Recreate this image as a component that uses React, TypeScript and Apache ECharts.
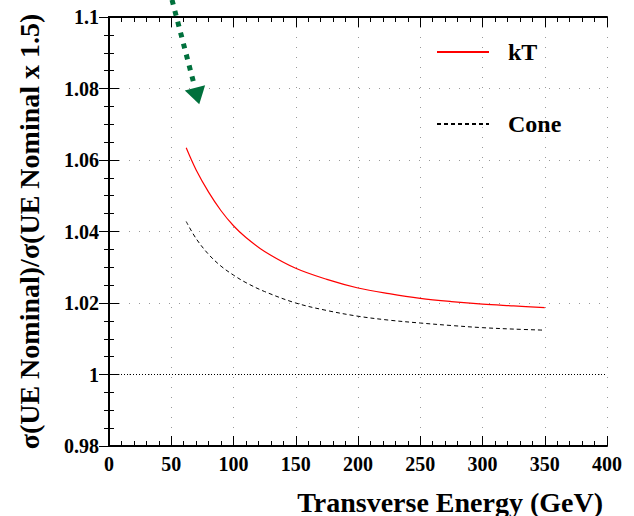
import React, { useEffect, useRef } from "react";
import * as echarts from "echarts";

const energies = [62, 70, 80, 90, 100, 110, 125, 150, 175, 200, 225, 250, 275, 300, 325, 350];
const ktValues = [1.0634, 1.0572, 1.0510, 1.0458, 1.0416, 1.0383, 1.0344, 1.0297, 1.0266, 1.0242, 1.0226, 1.0213, 1.0204, 1.0197, 1.0192, 1.0187];
const coneValues = [1.0428, 1.0380, 1.0336, 1.0303, 1.0278, 1.0257, 1.0232, 1.0200, 1.0179, 1.0163, 1.0152, 1.0144, 1.0137, 1.0131, 1.0127, 1.0124];
const seriesNames = ["kT", "Cone"];
const referenceLevel = 1;
const arrowTail = [50.6, 1.1048];
const arrowTip = [72.5, 1.0756];

const FONT = "'Liberation Serif', 'DejaVu Serif', serif";
const GREEN = "#00703c";

export default function App() {
  const ref = useRef<HTMLDivElement>(null);
  useEffect(() => {
    if (!ref.current) return;
    const chart = echarts.init(ref.current, undefined, { renderer: "svg" });
    const labelStyle = { fontFamily: FONT, fontWeight: "bold" as const, fontSize: 20, color: "#000" };
    const xCommon = {
      type: "value" as const,
      min: 0,
      max: 400,
      interval: 50,
      axisLine: { show: true, lineStyle: { color: "#000", width: 2 } },
      axisTick: { show: true, inside: true, length: 10, lineStyle: { color: "#000", width: 1 } },
      minorTick: { show: true, splitNumber: 5, length: 5, lineStyle: { color: "#000", width: 1 } },
    };
    const yCommon = {
      type: "value" as const,
      min: 0.98,
      max: 1.1,
      interval: 0.02,
      axisLine: { show: true, lineStyle: { color: "#000", width: 2 } },
      axisTick: { show: true, inside: true, length: 10, lineStyle: { color: "#000", width: 1 } },
      minorTick: { show: true, splitNumber: 4, length: 5, lineStyle: { color: "#000", width: 1 } },
    };
    const option: any = {
      animation: false,
      backgroundColor: "#fff",
      grid: { left: 109, right: 27, top: 17, bottom: 70, containLabel: false },
      legend: {
        orient: "vertical",
        left: 436,
        top: 40,
        padding: 0,
        itemWidth: 52,
        itemHeight: 14,
        itemGap: 48,
        itemStyle: { opacity: 0 },
        textStyle: { fontFamily: FONT, fontWeight: "bold", fontSize: 24, color: "#000", padding: [0, 0, 0, 14] },
        data: seriesNames,
      },
      xAxis: [
        {
          ...xCommon,
          position: "bottom",
          name: "Transverse Energy (GeV)",
          nameLocation: "end",
          nameGap: -4,
          nameTextStyle: { fontFamily: FONT, fontWeight: "bold", fontSize: 28, color: "#000", align: "right", verticalAlign: "top", padding: [42, 0, 0, 0] },
          axisLabel: { ...labelStyle, margin: 8 },
          splitLine: { show: true, lineStyle: { color: "#999", type: [1, 9], width: 1 } },
        },
        {
          ...xCommon,
          position: "top",
          axisLabel: { show: false },
          splitLine: { show: false },
        },
      ],
      yAxis: [
        {
          ...yCommon,
          position: "left",
          name: "σ(UE Nominal)/σ(UE Nominal x 1.5)",
          nameLocation: "middle",
          nameRotate: 90,
          nameGap: 66,
          nameTextStyle: { fontFamily: FONT, fontWeight: "bold", fontSize: 28, color: "#000" },
          axisLabel: { ...labelStyle, margin: 10 },
          splitLine: { show: true, lineStyle: { color: "#999", type: [1, 9], width: 1 } },
        },
        {
          ...yCommon,
          position: "right",
          axisLabel: { show: false },
          splitLine: { show: false },
        },
      ],
      series: [
        {
          name: seriesNames[0],
          type: "line",
          smooth: 0.35,
          symbol: "none",
          data: energies.map((e, i) => [e, ktValues[i]]),
          lineStyle: { color: "#ff0000", width: 1.2 },
          itemStyle: { color: "#ff0000" },
          markLine: {
            silent: true,
            symbol: "none",
            label: { show: false },
            lineStyle: { color: "#000", type: [1, 2], width: 1 },
            data: [{ yAxis: referenceLevel }],
          },
        },
        {
          name: seriesNames[1],
          type: "line",
          smooth: 0.35,
          symbol: "none",
          data: energies.map((e, i) => [e, coneValues[i]]),
          lineStyle: { color: "#000", width: 1, type: [4, 3] },
          itemStyle: { color: "#000" },
        },
      ],
    };
    chart.setOption(option);

    const tail = chart.convertToPixel({ gridIndex: 0 }, arrowTail) as number[];
    const tip = chart.convertToPixel({ gridIndex: 0 }, arrowTip) as number[];
    const dx = tip[0] - tail[0];
    const dy = tip[1] - tail[1];
    const len = Math.sqrt(dx * dx + dy * dy);
    const ux = dx / len;
    const uy = dy / len;
    const headLen = 17;
    const headHalf = 10.5;
    const base = [tip[0] - ux * headLen, tip[1] - uy * headLen];
    const lineEnd = [tip[0] - ux * (headLen + 4), tip[1] - uy * (headLen + 4)];
    chart.setOption({
      graphic: [
        {
          type: "line",
          shape: { x1: tail[0], y1: tail[1], x2: lineEnd[0], y2: lineEnd[1] },
          style: { stroke: GREEN, lineWidth: 5, lineDash: [5, 6.3], lineCap: "butt" },
          z: 100,
        },
        {
          type: "polygon",
          shape: {
            points: [
              [tip[0], tip[1]],
              [base[0] - uy * headHalf, base[1] + ux * headHalf],
              [base[0] + uy * headHalf, base[1] - ux * headHalf],
            ],
          },
          style: { fill: GREEN },
          z: 100,
        },
      ],
    });

    return () => chart.dispose();
  }, []);
  return <div ref={ref} style={{ width: 634, height: 516, position: "absolute", left: 0, top: 0 }} />;
}
